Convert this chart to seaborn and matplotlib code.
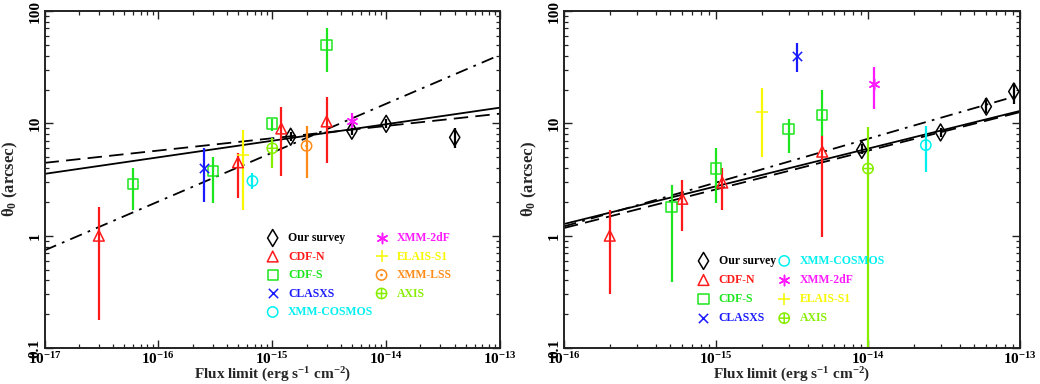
import numpy as np
import pandas as pd
import matplotlib
matplotlib.use("Agg")
import matplotlib.pyplot as plt
import seaborn as sns
from matplotlib.ticker import LogLocator, NullFormatter
from matplotlib.path import Path

# ---------------- data (flux limit in erg s^-1 cm^-2, theta_0 in arcsec) -------------
surveys = ["Our survey", "CDF-N", "CDF-S", "CLASXS", "XMM-COSMOS",
           "XMM-2dF", "ELAIS-S1", "XMM-LSS", "AXIS"]

# Left panel
L_our_x = [1.45e-15, 5e-15, 1e-14, 4e-14]
L_our_y = [7.6, 8.6, 9.9, 7.5]
L_our_lo = [6.9, 7.8, 9.0, 6.0]
L_our_hi = [8.4, 9.5, 10.9, 9.1]

L_cdfn_x = [3e-17, 5e-16, 1.2e-15, 3e-15]
L_cdfn_y = [1.0, 4.5, 9.0, 10.4]
L_cdfn_lo = [0.176, 2.16, 3.4, 4.4]
L_cdfn_hi = [1.8, 5.5, 14.1, 17.0]

L_cdfs_x = [6e-17, 3e-16, 1e-15, 3e-15]
L_cdfs_y = [2.87, 3.78, 10.0, 50.0]
L_cdfs_lo = [1.68, 1.97, 8.5, 28.8]
L_cdfs_hi = [4.0, 5.0, 10.9, 71.0]

L_clasxs_x = [2.5e-16]
L_clasxs_y = [4.0]
L_clasxs_lo = [1.99]
L_clasxs_hi = [6.0]

L_cosmos_x = [6.7e-16]
L_cosmos_y = [3.07]
L_cosmos_lo = [2.6]
L_cosmos_hi = [3.6]

L_2df_x = [5e-15]
L_2df_y = [10.4]
L_2df_lo = [9.0]
L_2df_hi = [12.3]

L_elais_x = [5.5e-16]
L_elais_y = [5.2]
L_elais_lo = [1.68]
L_elais_hi = [8.7]

L_lss_x = [2e-15]
L_lss_y = [6.3]
L_lss_lo = [3.25]
L_lss_hi = [9.4]

L_axis_x = [1e-15]
L_axis_y = [6.0]
L_axis_lo = [4.0]
L_axis_hi = [7.4]

L_fit_x = [1e-17, 1e-13]
L_fit_solid = [3.55, 13.8]
L_fit_dashed = [4.45, 12.2]
L_fit_dashdot = [0.74, 40.7]

# Right panel
R_our_x = [9.1e-15, 3e-14, 6e-14, 9.1e-14]
R_our_y = [5.8, 8.3, 14.1, 19.2]
R_our_lo = [5.3, 7.5, 12.3, 15.0]
R_our_hi = [6.5, 9.1, 16.9, 23.0]

R_cdfn_x = [2e-16, 6e-16, 1.1e-15, 5e-15]
R_cdfn_y = [1.0, 2.13, 2.97, 5.6]
R_cdfn_lo = [0.30, 1.09, 1.68, 0.98]
R_cdfn_hi = [1.68, 3.1, 4.0, 7.8]

R_cdfs_x = [5.1e-16, 1e-15, 3e-15, 5e-15]
R_cdfs_y = [1.8, 3.96, 8.9, 11.9]
R_cdfs_lo = [0.39, 1.97, 5.4, 7.7]
R_cdfs_hi = [2.8, 6.0, 11.0, 20.0]

R_clasxs_x = [3.4e-15]
R_clasxs_y = [39.8]
R_clasxs_lo = [28.8]
R_clasxs_hi = [51.5]

R_cosmos_x = [2.4e-14]
R_cosmos_y = [6.4]
R_cosmos_lo = [3.7]
R_cosmos_hi = [9.5]

R_2df_x = [1.1e-14]
R_2df_y = [22.3]
R_2df_lo = [13.4]
R_2df_hi = [31.6]

R_elais_x = [2e-15]
R_elais_y = [12.7]
R_elais_lo = [5.0]
R_elais_hi = [20.5]

R_axis_x = [1e-14]
R_axis_y = [3.96]
R_axis_lo = [0.05]
R_axis_hi = [9.2]

R_fit_x = [1e-16, 1e-13]
R_fit_solid = [1.27, 12.9]
R_fit_dashed = [1.17, 12.6]
R_fit_dashdot = [1.21, 17.9]

x_ticks_L = [1e-17, 1e-16, 1e-15, 1e-14, 1e-13]
x_labels_L = [r"$10^{-17}$", r"$10^{-16}$", r"$10^{-15}$", r"$10^{-14}$", r"$10^{-13}$"]
x_ticks_R = [1e-16, 1e-15, 1e-14, 1e-13]
x_labels_R = [r"$10^{-16}$", r"$10^{-15}$", r"$10^{-14}$", r"$10^{-13}$"]
y_ticks = [0.1, 1, 10, 100]
y_labels = ["0.1", "1", "10", "100"]

# ---------------- style ----------------
colors = {
    "Our survey": "#000000", "CDF-N": "#ff1a1a", "CDF-S": "#1ee61e",
    "CLASXS": "#1a1aff", "XMM-COSMOS": "#00f0f0", "XMM-2dF": "#ff1aff",
    "ELAIS-S1": "#f8f800", "XMM-LSS": "#ff8c1a", "AXIS": "#88ee00",
}

# hollow circle with a plus, and hollow circle with a dot
_circ = Path.unit_circle()
_plus = Path([[-1, 0], [1, 0], [0, -1], [0, 1]],
             [Path.MOVETO, Path.LINETO, Path.MOVETO, Path.LINETO])
oplus_path = Path.make_compound_path(_circ, _plus)
_dot = Path(_circ.vertices * 0.12, _circ.codes)
odot_path = Path.make_compound_path(_circ, _dot)

# marker, size, hollow?
mstyle = {
    "Our survey": ("d", 75, True),
    "CDF-N": ("^", 60, True),
    "CDF-S": ("s", 55, True),
    "CLASXS": ("x", 45, False),
    "XMM-COSMOS": ("o", 55, True),
    "XMM-2dF": ((6, 2, 0), 55, False),
    "ELAIS-S1": ("+", 80, False),
    "XMM-LSS": (odot_path, 55, True),
    "AXIS": (oplus_path, 55, True),
}

sns.set_style("ticks")
plt.rcParams["font.family"] = ["Liberation Serif", "DejaVu Serif"]
plt.rcParams["font.weight"] = "bold"
plt.rcParams["axes.labelweight"] = "bold"
plt.rcParams["mathtext.fontset"] = "custom"
plt.rcParams["mathtext.rm"] = "Liberation Serif:bold"
plt.rcParams["mathtext.bf"] = "Liberation Serif:bold"
plt.rcParams["mathtext.it"] = "Liberation Serif:italic:bold"
plt.rcParams["mathtext.default"] = "bf"
plt.rcParams["xtick.direction"] = "in"
plt.rcParams["ytick.direction"] = "in"
plt.rcParams["xtick.top"] = True
plt.rcParams["ytick.right"] = True

fig = plt.figure(figsize=(10.4, 3.84), dpi=100)
axL = fig.add_axes([0.0428, 0.0937, 0.4380, 0.8776])
axR = fig.add_axes([0.5423, 0.0937, 0.4385, 0.8776])


def draw_survey(ax, name, x, y, lo, hi):
    c = colors[name]
    ax.vlines(x, lo, hi, colors=c, lw=1.6, zorder=2)
    m, s, hollow = mstyle[name]
    df = pd.DataFrame({"flux": x, "theta": y})
    if hollow:
        sns.scatterplot(data=df, x="flux", y="theta", ax=ax, marker=m, s=s,
                        color=c, facecolor="none", edgecolor=c, linewidth=1.1,
                        label=name, zorder=3)
    else:
        sns.scatterplot(data=df, x="flux", y="theta", ax=ax, marker=m, s=s,
                        color=c, edgecolor=c, linewidth=1.1, label=name, zorder=3)


def draw_fits(ax, fx, solid, dashed, dashdot):
    sns.lineplot(x=fx, y=solid, ax=ax, color="k", lw=1.3, zorder=1, legend=False)
    l2 = sns.lineplot(x=fx, y=dashed, ax=ax, color="k", lw=1.3, zorder=1, legend=False)
    l2.lines[-1].set_dashes((8, 4))
    l3 = sns.lineplot(x=fx, y=dashdot, ax=ax, color="k", lw=1.3, zorder=1, legend=False)
    l3.lines[-1].set_dashes((7, 3.5, 1.5, 3.5))


def style_axes(ax, xlim, xt, xl):
    ax.set_xscale("log")
    ax.set_yscale("log")
    ax.set_xlim(*xlim)
    ax.set_ylim(0.1, 100)
    ax.set_xticks(xt, xl)
    ax.set_yticks(y_ticks, y_labels)
    ax.xaxis.set_minor_locator(LogLocator(base=10, subs=np.arange(2, 10)))
    ax.yaxis.set_minor_locator(LogLocator(base=10, subs=np.arange(2, 10)))
    ax.xaxis.set_minor_formatter(NullFormatter())
    ax.yaxis.set_minor_formatter(NullFormatter())
    ax.tick_params(which="major", length=6, width=1.0, labelsize=11, pad=2,
                   direction="in", top=True, right=True, colors="#222222",
                   labelcolor="black")
    ax.tick_params(which="minor", length=3.2, width=0.9, direction="in",
                   top=True, right=True, colors="#222222")
    ax.tick_params(axis="y", labelrotation=90, pad=2, labelsize=11)
    for lab in ax.get_yticklabels():
        lab.set_verticalalignment("center")
        lab.set_fontweight("bold")
    for sp in ax.spines.values():
        sp.set_linewidth(1.4)
        sp.set_color("#222222")
    ax.set_xlabel(r"Flux limit (erg s$^{-1}$ cm$^{-2}$)", fontsize=11)
    ax.xaxis.label.set_verticalalignment("center")
    ax.xaxis.set_label_coords(0.5, -0.08)
    ax.set_ylabel(r"$\theta_0$ (arcsec)", fontsize=12)
    ax.yaxis.label.set_verticalalignment("center")
    ax.yaxis.set_label_coords(-0.075, 0.5)


def make_legend(ax, order, bbox, spacing):
    h, l = ax.get_legend_handles_labels()
    d = dict(zip(l, h))
    leg = ax.legend([d[k] for k in order], order, ncol=2, frameon=False,
                    loc="upper left", bbox_to_anchor=bbox,
                    prop={"size": 8.5, "weight": "bold", "family": "Liberation Serif"},
                    handletextpad=0.7, columnspacing=0.1, labelspacing=spacing,
                    borderaxespad=0, handlelength=1.2)
    for t in leg.get_texts():
        t.set_color(colors[t.get_text()])


# ---------------- left panel ----------------
draw_fits(axL, L_fit_x, L_fit_solid, L_fit_dashed, L_fit_dashdot)
draw_survey(axL, "Our survey", L_our_x, L_our_y, L_our_lo, L_our_hi)
draw_survey(axL, "CDF-N", L_cdfn_x, L_cdfn_y, L_cdfn_lo, L_cdfn_hi)
draw_survey(axL, "CDF-S", L_cdfs_x, L_cdfs_y, L_cdfs_lo, L_cdfs_hi)
draw_survey(axL, "CLASXS", L_clasxs_x, L_clasxs_y, L_clasxs_lo, L_clasxs_hi)
draw_survey(axL, "XMM-COSMOS", L_cosmos_x, L_cosmos_y, L_cosmos_lo, L_cosmos_hi)
draw_survey(axL, "XMM-2dF", L_2df_x, L_2df_y, L_2df_lo, L_2df_hi)
draw_survey(axL, "ELAIS-S1", L_elais_x, L_elais_y, L_elais_lo, L_elais_hi)
draw_survey(axL, "XMM-LSS", L_lss_x, L_lss_y, L_lss_lo, L_lss_hi)
draw_survey(axL, "AXIS", L_axis_x, L_axis_y, L_axis_lo, L_axis_hi)
style_axes(axL, (1e-17, 1e-13), x_ticks_L, x_labels_L)
make_legend(axL, surveys, (0.475, 0.358), 0.55)

# ---------------- right panel ----------------
order_R = ["Our survey", "CDF-N", "CDF-S", "CLASXS",
           "XMM-COSMOS", "XMM-2dF", "ELAIS-S1", "AXIS"]
draw_fits(axR, R_fit_x, R_fit_solid, R_fit_dashed, R_fit_dashdot)
draw_survey(axR, "Our survey", R_our_x, R_our_y, R_our_lo, R_our_hi)
draw_survey(axR, "CDF-N", R_cdfn_x, R_cdfn_y, R_cdfn_lo, R_cdfn_hi)
draw_survey(axR, "CDF-S", R_cdfs_x, R_cdfs_y, R_cdfs_lo, R_cdfs_hi)
draw_survey(axR, "CLASXS", R_clasxs_x, R_clasxs_y, R_clasxs_lo, R_clasxs_hi)
draw_survey(axR, "XMM-COSMOS", R_cosmos_x, R_cosmos_y, R_cosmos_lo, R_cosmos_hi)
draw_survey(axR, "XMM-2dF", R_2df_x, R_2df_y, R_2df_lo, R_2df_hi)
draw_survey(axR, "ELAIS-S1", R_elais_x, R_elais_y, R_elais_lo, R_elais_hi)
draw_survey(axR, "AXIS", R_axis_x, R_axis_y, R_axis_lo, R_axis_hi)
style_axes(axR, (1e-16, 1e-13), x_ticks_R, x_labels_R)
make_legend(axR, order_R, (0.28, 0.29), 0.6)

fig.savefig("out.png", dpi=100)
